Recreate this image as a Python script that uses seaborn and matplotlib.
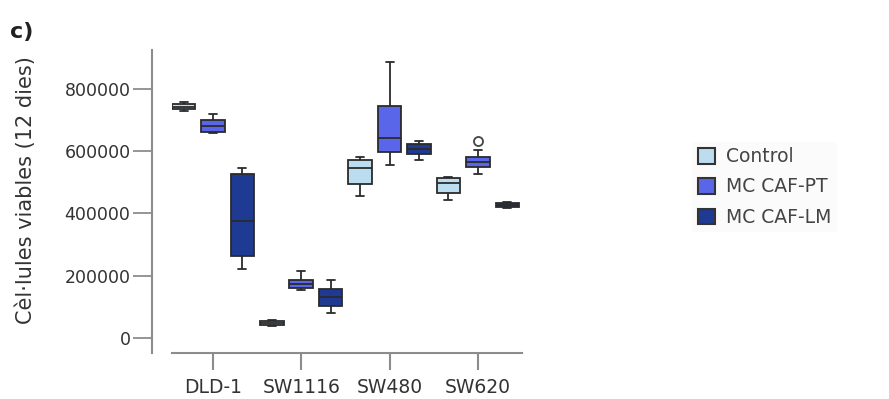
import numpy as np
import pandas as pd
import matplotlib
matplotlib.use("Agg")
import matplotlib.pyplot as plt
import seaborn as sns
from matplotlib.patches import Patch

# ---- data ----
cell_lines = ["DLD-1", "SW1116", "SW480", "SW620"]
groups = ["Control", "MC CAF-PT", "MC CAF-LM"]

control_vals = {
    "DLD-1":  [728000, 734000, 742000, 751000, 758000],
    "SW1116": [40000, 42000, 48000, 56000, 58000],
    "SW480":  [457000, 495000, 545000, 571000, 583000],
    "SW620":  [443000, 466000, 499000, 514000, 516000],
}
pt_vals = {
    "DLD-1":  [659000, 663000, 680000, 700000, 720000],
    "SW1116": [154000, 161000, 173000, 188000, 215000],
    "SW480":  [556000, 599000, 641000, 744000, 886000],
    "SW620":  [526000, 540000, 550000, 556000, 564000, 572000, 582000, 604000, 634000],
}
lm_vals = {
    "DLD-1":  [222000, 264000, 377000, 527000, 546000],
    "SW1116": [81000, 104000, 133000, 157000, 186000],
    "SW480":  [572000, 592000, 608000, 622000, 634000],
    "SW620":  [419000, 422000, 428000, 434000, 437000],
}
yticks = [0, 200000, 400000, 600000, 800000]

colors = ["#bcdcf0", "#5a66ea", "#1f3a92"]

rows = []
for g, d in zip(groups, [control_vals, pt_vals, lm_vals]):
    for c in cell_lines:
        for v in d[c]:
            rows.append({"line": c, "group": g, "value": v})
df = pd.DataFrame(rows)

sns.set_style("white")
plt.rcParams["font.family"] = ["DejaVu Sans"]

fig = plt.figure(figsize=(8.89, 3.99), dpi=100)
W, H = 889, 399
ax = fig.add_axes([172 / W, (H - 353) / H, (522 - 172) / W, (353 - 50) / H])

edge = "#2b2b2b"
sns.boxplot(
    data=df, x="line", y="value", hue="group",
    order=cell_lines, hue_order=groups, palette=colors, saturation=1,
    width=1.0, gap=0.2, linewidth=1.3, linecolor=edge,
    capwidths=0.09,
    flierprops=dict(marker="o", markerfacecolor="white",
                    markeredgecolor="#444444", markersize=6.5, markeredgewidth=1.3),
    legend=False, ax=ax,
)

ax.set_xlim(-0.464, 3.5)
ax.set_ylim(-48000, 925000)
ax.set_yticks(yticks)
ax.set_yticklabels([str(t) for t in yticks])
ax.set_xlabel("")
ax.set_ylabel("Cèl·lules viables (12 dies)", fontsize=15, color="#333333")
ax.yaxis.set_label_coords((36 - 172) / 350, (353 - 190) / 303)

spc = "#8c8c8c"
for s in ["top", "right"]:
    ax.spines[s].set_visible(False)
ax.spines["left"].set_position(("outward", 14.4))
ax.spines["left"].set_color(spc)
ax.spines["left"].set_linewidth(1.5)
ax.spines["bottom"].set_color(spc)
ax.spines["bottom"].set_linewidth(1.5)

ax.tick_params(axis="y", which="major", left=True, length=14, width=1.3,
               color=spc, labelsize=12.5, labelcolor="#333333", pad=1.5)
ax.tick_params(axis="x", which="major", bottom=True, length=12, width=1.5,
               color=spc, labelsize=13.5, labelcolor="#333333", pad=6)

handles = [Patch(facecolor=c, edgecolor="#333333", linewidth=1.5, label=g)
           for c, g in zip(colors, groups)]
leg = fig.legend(handles=handles, loc="center left",
                 bbox_to_anchor=(683 / W, 1 - 187 / H),
                 frameon=True, fontsize=13.5, handlelength=0.9, handleheight=0.9,
                 handletextpad=0.6, labelspacing=0.6, borderpad=0.3)
leg.get_frame().set_facecolor("#fbfbfb")
leg.get_frame().set_edgecolor("none")
for t in leg.get_texts():
    t.set_color("#444444")

fig.text(10 / W, 1 - 32 / H, "c)", fontsize=16, fontweight="bold", color="#222222",
         va="center", ha="left")

fig.savefig("out.png", dpi=100, facecolor="white")
